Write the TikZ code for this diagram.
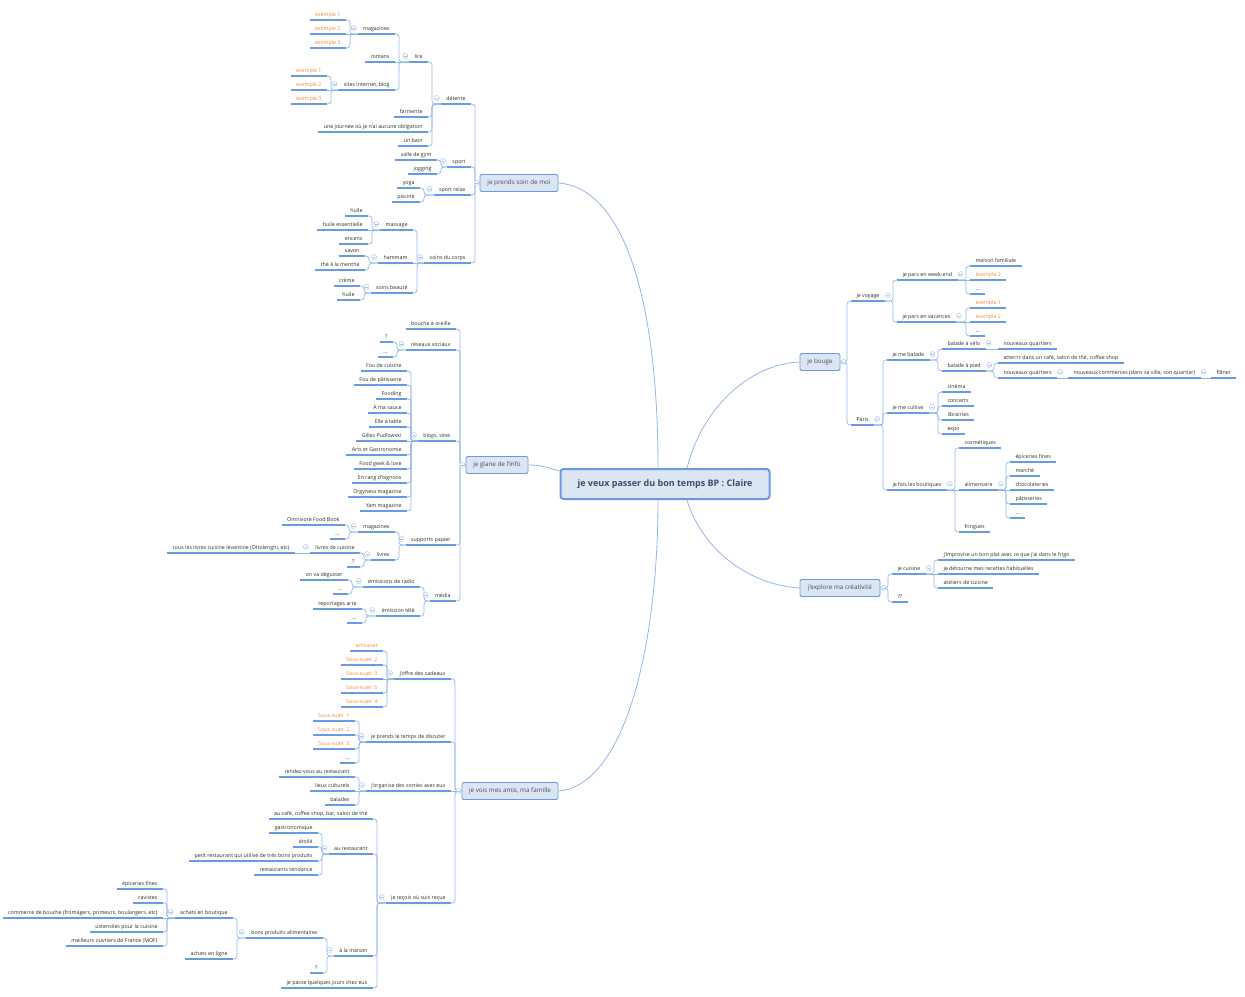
\documentclass[tikz,border=0pt]{standalone}
\usepackage{fontspec}
\setmainfont{Open Sans}
\definecolor{lineblue}{HTML}{6A9BE2}
\definecolor{connblue}{HTML}{92B5EA}
\definecolor{boxfill}{HTML}{DCE6F3}
\definecolor{boxtext}{HTML}{3C4B66}
\definecolor{leafgray}{HTML}{2A2A2A}
\definecolor{subject}{HTML}{F28A3A}
\definecolor{foldblue}{HTML}{A6C2EB}
\begin{document}
\begin{tikzpicture}[x=1pt,y=-1pt,line join=round,
  leaf/.style={font=\fontsize{5.3}{6}\selectfont, text=leafgray, inner xsep=5.3pt, inner ysep=2pt,
    text height=4pt, text depth=1.5pt,
    append after command={(\tikzlastnode.south west) edge[uline] (\tikzlastnode.south east)}},
  sub/.style={leaf, text=subject},
  lside/.style={anchor=south east},
  rside/.style={anchor=south west},
  uline/.style={draw=lineblue, line width=1.2pt},
  conn/.style={draw=connblue, line width=0.7pt, rounded corners=3pt},
  main/.style={draw=lineblue, fill=boxfill, rounded corners=2pt, line width=0.9pt, text=boxtext,
    font=\fontsize{6.3}{7}\selectfont, minimum height=17pt, inner sep=0pt},
  central/.style={draw=lineblue, fill=boxfill, rounded corners=3pt, line width=2pt, text=boxtext,
    font=\bfseries\fontsize{9}{10}\selectfont, minimum width=209pt, minimum height=30pt},
  fold/.style={circle, draw=foldblue, fill=white, line width=0.5pt, inner sep=0pt, minimum size=5pt,
    path picture={\draw[foldblue, line width=0.5pt] ([xshift=-1.3pt]path picture bounding box.center)
      -- ([xshift=1.3pt]path picture bounding box.center);}}]
\useasboundingbox (0,0) rectangle (1245,996);
%%
  % Node: central topic
  \node[central] (central) at (665,484) {je veux passer du bon temps BP : Claire};
  % Node: main topics
  \node[main, minimum width=78pt] (soin) at (519,183) {je prends soin de moi};
  \node[main, minimum width=62pt] (glane) at (497,465) {je glane de l'info};
  \node[main, minimum width=96pt] (vois) at (510,791) {je vois mes amis, ma famille};
  \node[main, minimum width=40pt] (bouge) at (820,362) {je bouge};
  \node[main, minimum width=80pt] (explore) at (840,588) {j'explore ma créativité};
  % Edge: central -> main topics
  \draw[conn, line width=0.8pt] (soin.east) .. controls +(65,5) and +(0,-170) .. ([xshift=-7pt]central.north);
  \draw[conn, line width=0.8pt] (glane.east) .. controls +(15,0) and +(-12,-3) .. ([yshift=-3pt]central.north west);
  \draw[conn, line width=0.8pt] (vois.east) .. controls +(65,-5) and +(0,150) .. ([xshift=-7pt]central.south);
  \draw[conn, line width=0.8pt] ([xshift=22pt]central.north) .. controls +(15,-60) and +(-50,2) .. (bouge.west);
  \draw[conn, line width=0.8pt] ([xshift=22pt]central.south) .. controls +(15,50) and +(-50,-3) .. (explore.west);
%
  % Node: je prends soin de moi
  \node[leaf, lside] (detente) at (471,104) {détente};
  \node[leaf, lside] (lire) at (428,62) {lire};
  \node[leaf, lside] (magazines) at (395,34) {magazines};
  \node[sub, lside] (mag-ex1) at (346,20) {exemple 1};
  \node[sub, lside] (mag-ex2) at (346,34) {exemple 2};
  \node[sub, lside] (mag-ex3) at (346,48) {exemple 3};
  \node[leaf, lside] (romans) at (395,62) {romans};
  \node[leaf, lside] (sites) at (395,90) {sites internet, blog};
  \node[sub, lside] (site-ex1) at (327,76) {exemple 1};
  \node[sub, lside] (site-ex2) at (327,90) {exemple 2};
  \node[sub, lside] (site-ex3) at (327,104) {exemple 3};
  \node[leaf, lside] (farniente) at (428,117) {farniente};
  \node[leaf, lside] (journee) at (428,132) {une journée où je n'ai aucune obligation};
  \node[leaf, lside] (bain) at (428,146) {un bain};
  \node[leaf, lside] (sport) at (471,167) {sport};
  \node[leaf, lside] (gym) at (437,160) {salle de gym};
  \node[leaf, lside] (jogging) at (437,174) {jogging};
  \node[leaf, lside] (sportrelax) at (471,195) {sport relax};
  \node[leaf, lside] (yoga) at (420,188) {yoga};
  \node[leaf, lside] (piscine) at (420,202) {piscine};
  \node[leaf, lside] (soinscorps) at (471,263) {soins du corps};
  \node[leaf, lside] (massage) at (413,230) {massage};
  \node[leaf, lside] (huile) at (368,216) {huile};
  \node[leaf, lside] (huileess) at (368,230) {huile essentielle};
  \node[leaf, lside] (encens) at (368,244) {encens};
  \node[leaf, lside] (hammam) at (413,263) {hammam};
  \node[leaf, lside] (savon) at (365,256) {savon};
  \node[leaf, lside] (menthe) at (365,270) {thé à la menthe};
  \node[leaf, lside] (beaute) at (413,293) {soins beauté};
  \node[leaf, lside] (creme) at (360,286) {crème};
  \node[leaf, lside] (huile2) at (360,300) {huile};
  % Edge: je prends soin de moi
  \draw[conn] (soin.west) -| ([xshift=4pt]detente.south east) -- (detente.south east);
  \draw[conn] (soin.west) -| ([xshift=4pt]sport.south east) -- (sport.south east);
  \draw[conn] (soin.west) -| ([xshift=4pt]sportrelax.south east) -- (sportrelax.south east);
  \draw[conn] (soin.west) -| ([xshift=4pt]soinscorps.south east) -- (soinscorps.south east);
  \draw[conn] (detente.south west) -| ([xshift=4pt]lire.south east) -- (lire.south east);
  \draw[conn] (detente.south west) -| ([xshift=4pt]farniente.south east) -- (farniente.south east);
  \draw[conn] (detente.south west) -| ([xshift=4pt]journee.south east) -- (journee.south east);
  \draw[conn] (detente.south west) -| ([xshift=4pt]bain.south east) -- (bain.south east);
  \draw[conn] (lire.south west) -| ([xshift=4pt]magazines.south east) -- (magazines.south east);
  \draw[conn] (lire.south west) -- (romans.south east);
  \draw[conn] (lire.south west) -| ([xshift=4pt]sites.south east) -- (sites.south east);
  \draw[conn] (magazines.south west) -| ([xshift=4pt]mag-ex1.south east) -- (mag-ex1.south east);
  \draw[conn] (magazines.south west) -- (mag-ex2.south east);
  \draw[conn] (magazines.south west) -| ([xshift=4pt]mag-ex3.south east) -- (mag-ex3.south east);
  \draw[conn] (sites.south west) -| ([xshift=4pt]site-ex1.south east) -- (site-ex1.south east);
  \draw[conn] (sites.south west) -- (site-ex2.south east);
  \draw[conn] (sites.south west) -| ([xshift=4pt]site-ex3.south east) -- (site-ex3.south east);
  \draw[conn] (sport.south west) -| ([xshift=4pt]gym.south east) -- (gym.south east);
  \draw[conn] (sport.south west) -| ([xshift=4pt]jogging.south east) -- (jogging.south east);
  \draw[conn] (sportrelax.south west) -| ([xshift=4pt]yoga.south east) -- (yoga.south east);
  \draw[conn] (sportrelax.south west) -| ([xshift=4pt]piscine.south east) -- (piscine.south east);
  \draw[conn] (soinscorps.south west) -| ([xshift=4pt]massage.south east) -- (massage.south east);
  \draw[conn] (soinscorps.south west) -- (hammam.south east);
  \draw[conn] (soinscorps.south west) -| ([xshift=4pt]beaute.south east) -- (beaute.south east);
  \draw[conn] (massage.south west) -| ([xshift=4pt]huile.south east) -- (huile.south east);
  \draw[conn] (massage.south west) -- (huileess.south east);
  \draw[conn] (massage.south west) -| ([xshift=4pt]encens.south east) -- (encens.south east);
  \draw[conn] (hammam.south west) -| ([xshift=4pt]savon.south east) -- (savon.south east);
  \draw[conn] (hammam.south west) -| ([xshift=4pt]menthe.south east) -- (menthe.south east);
  \draw[conn] (beaute.south west) -| ([xshift=4pt]creme.south east) -- (creme.south east);
  \draw[conn] (beaute.south west) -| ([xshift=4pt]huile2.south east) -- (huile2.south east);
%
  % Node: je glane de l'info
  \node[leaf, lside] (bouche) at (456,329) {bouche à oreille};
  \node[leaf, lside] (reseaux) at (456,350) {réseaux sociaux};
  \node[leaf, lside] (reseaux-q) at (393,342) {?};
  \node[leaf, lside] (reseaux-dots) at (393,357) {...};
  \node[leaf, lside] (blogs) at (456,441) {blogs, sites};
  \node[leaf, lside] (foucuisine) at (407,371) {Fou de cuisine};
  \node[leaf, lside] (foupatisserie) at (407,385) {Fou de pâtisserie};
  \node[leaf, lside] (fooding) at (407,399) {Fooding};
  \node[leaf, lside] (masauce) at (407,413) {À ma sauce};
  \node[leaf, lside] (elle) at (407,427) {Elle à table};
  \node[leaf, lside] (gilles) at (407,441) {Gilles Pudlowski};
  \node[leaf, lside] (arts) at (407,455) {Arts et Gastronomie};
  \node[leaf, lside] (foodgeek) at (407,469) {Food geek \& love};
  \node[leaf, lside] (enrang) at (407,483) {En rang d'oignons};
  \node[leaf, lside] (orgyness) at (407,497) {Orgyness magazine};
  \node[leaf, lside] (yam) at (407,511) {Yam magazine};
  \node[leaf, lside] (papier) at (456,545) {supports papier};
  \node[leaf, lside] (papier-mag) at (395,532) {magazines};
  \node[leaf, lside] (omnivore) at (345,525) {Omnivore Food Book};
  \node[leaf, lside] (papier-dots) at (345,539) {...};
  \node[leaf, lside] (livres) at (395,560) {livres};
  \node[leaf, lside] (livrescuisine) at (360,553) {livres de cuisine};
  \node[leaf, lside] (levantine) at (295,553) {tous les livres cuisine levantine (Ottolenghi, etc)};
  \node[leaf, lside] (livres-q) at (360,567) {?};
  \node[leaf, lside] (media) at (456,601) {média};
  \node[leaf, lside] (radio) at (420,587) {émissions de radio};
  \node[leaf, lside] (deguster) at (348,580) {on va déguster};
  \node[leaf, lside] (radio-dots) at (348,594) {...};
  \node[leaf, lside] (tele) at (420,616) {émission télé};
  \node[leaf, lside] (arte) at (362,609) {reportages arte};
  \node[leaf, lside] (tele-dots) at (362,623) {...};
  % Edge: je glane de l'info
  \draw[conn] (glane.west) -| ([xshift=4pt]bouche.south east) -- (bouche.south east);
  \draw[conn] (glane.west) -| ([xshift=4pt]reseaux.south east) -- (reseaux.south east);
  \draw[conn] (glane.west) -| ([xshift=4pt]blogs.south east) -- (blogs.south east);
  \draw[conn] (glane.west) -| ([xshift=4pt]papier.south east) -- (papier.south east);
  \draw[conn] (glane.west) -| ([xshift=4pt]media.south east) -- (media.south east);
  \draw[conn] (reseaux.south west) -| ([xshift=4pt]reseaux-q.south east) -- (reseaux-q.south east);
  \draw[conn] (reseaux.south west) -| ([xshift=4pt]reseaux-dots.south east) -- (reseaux-dots.south east);
  \draw[conn] (blogs.south west) -| ([xshift=4pt]foucuisine.south east) -- (foucuisine.south east);
  \draw[conn] (blogs.south west) -| ([xshift=4pt]foupatisserie.south east) -- (foupatisserie.south east);
  \draw[conn] (blogs.south west) -| ([xshift=4pt]fooding.south east) -- (fooding.south east);
  \draw[conn] (blogs.south west) -| ([xshift=4pt]masauce.south east) -- (masauce.south east);
  \draw[conn] (blogs.south west) -| ([xshift=4pt]elle.south east) -- (elle.south east);
  \draw[conn] (blogs.south west) -- (gilles.south east);
  \draw[conn] (blogs.south west) -| ([xshift=4pt]arts.south east) -- (arts.south east);
  \draw[conn] (blogs.south west) -| ([xshift=4pt]foodgeek.south east) -- (foodgeek.south east);
  \draw[conn] (blogs.south west) -| ([xshift=4pt]enrang.south east) -- (enrang.south east);
  \draw[conn] (blogs.south west) -| ([xshift=4pt]orgyness.south east) -- (orgyness.south east);
  \draw[conn] (blogs.south west) -| ([xshift=4pt]yam.south east) -- (yam.south east);
  \draw[conn] (papier.south west) -| ([xshift=4pt]papier-mag.south east) -- (papier-mag.south east);
  \draw[conn] (papier.south west) -| ([xshift=4pt]livres.south east) -- (livres.south east);
  \draw[conn] (papier-mag.south west) -| ([xshift=4pt]omnivore.south east) -- (omnivore.south east);
  \draw[conn] (papier-mag.south west) -| ([xshift=4pt]papier-dots.south east) -- (papier-dots.south east);
  \draw[conn] (livres.south west) -| ([xshift=4pt]livrescuisine.south east) -- (livrescuisine.south east);
  \draw[conn] (livres.south west) -| ([xshift=4pt]livres-q.south east) -- (livres-q.south east);
  \draw[conn] (livrescuisine.south west) -- (levantine.south east);
  \draw[conn] (media.south west) -| ([xshift=4pt]radio.south east) -- (radio.south east);
  \draw[conn] (media.south west) -| ([xshift=4pt]tele.south east) -- (tele.south east);
  \draw[conn] (radio.south west) -| ([xshift=4pt]deguster.south east) -- (deguster.south east);
  \draw[conn] (radio.south west) -| ([xshift=4pt]radio-dots.south east) -- (radio-dots.south east);
  \draw[conn] (tele.south west) -| ([xshift=4pt]arte.south east) -- (arte.south east);
  \draw[conn] (tele.south west) -| ([xshift=4pt]tele-dots.south east) -- (tele-dots.south east);
%
  % Node: je vois mes amis, ma famille
  \node[leaf, lside] (cadeaux) at (451,679) {j'offre des cadeaux};
  \node[sub, lside] (artisanat) at (383,651) {artisanat};
  \node[sub, lside] (cad-ss2) at (383,665) {Sous-sujet\ \ 2};
  \node[sub, lside] (cad-ss3) at (383,679) {Sous-sujet\ \ 3};
  \node[sub, lside] (cad-ss5) at (383,693) {Sous-sujet\ \ 5};
  \node[sub, lside] (cad-ss4) at (383,707) {Sous-sujet\ \ 4};
  \node[leaf, lside] (discuter) at (451,742) {je prends le temps de discuter};
  \node[sub, lside] (dis-ss1) at (355,721) {Sous-sujet\ \ 1};
  \node[sub, lside] (dis-ss2) at (355,735) {Sous-sujet\ \ 2};
  \node[sub, lside] (dis-ss3) at (355,749) {Sous-sujet\ \ 3};
  \node[leaf, lside] (dis-dots) at (355,763) {...};
  \node[leaf, lside] (sorties) at (451,791) {j'organise des sorties avec eux};
  \node[leaf, lside] (rdv) at (355,777) {rendez-vous au restaurant};
  \node[leaf, lside] (lieux) at (355,791) {lieux culturels};
  \node[leaf, lside] (balades) at (355,805) {balades};
  \node[leaf, lside] (recois) at (451,903) {je reçois où suis reçue};
  \node[leaf, lside] (cafe) at (373,819) {au café, coffee shop, bar, salon de thé};
  \node[leaf, lside] (restaurant) at (373,854) {au restaurant};
  \node[leaf, lside] (gastro) at (318,833) {gastronomique};
  \node[leaf, lside] (etoile) at (318,847) {étoilé};
  \node[leaf, lside] (petit) at (318,861) {petit restaurant qui utilise de très bons produits};
  \node[leaf, lside] (tendance) at (318,875) {restaurants tendance};
  \node[leaf, lside] (maison) at (373,956) {à la maison};
  \node[leaf, lside] (produits) at (323,938) {bons produits alimentaires};
  \node[leaf, lside] (boutique) at (233,918) {achats en boutique};
  \node[leaf, lside] (epiceries) at (163,889) {épiceries fines};
  \node[leaf, lside] (cavistes) at (163,903) {cavistes};
  \node[leaf, lside] (commerce) at (163,918) {commerce de bouche (fromagers, primeurs, boulangers, etc)};
  \node[leaf, lside] (ustensiles) at (163,932) {ustensiles pour la cuisine};
  \node[leaf, lside] (mof) at (163,946) {meilleurs ouvriers de France (MOF)};
  \node[leaf, lside] (enligne) at (233,959) {achats en ligne};
  \node[leaf, lside] (maison-q) at (323,973) {?};
  \node[leaf, lside] (sejour) at (373,988) {je passe quelques jours chez eux};
  % Edge: je vois mes amis, ma famille
  \draw[conn] (vois.west) -| ([xshift=4pt]cadeaux.south east) -- (cadeaux.south east);
  \draw[conn] (vois.west) -| ([xshift=4pt]discuter.south east) -- (discuter.south east);
  \draw[conn] (vois.west) -- (sorties.south east);
  \draw[conn] (vois.west) -| ([xshift=4pt]recois.south east) -- (recois.south east);
  \draw[conn] (cadeaux.south west) -| ([xshift=4pt]artisanat.south east) -- (artisanat.south east);
  \draw[conn] (cadeaux.south west) -| ([xshift=4pt]cad-ss2.south east) -- (cad-ss2.south east);
  \draw[conn] (cadeaux.south west) -- (cad-ss3.south east);
  \draw[conn] (cadeaux.south west) -| ([xshift=4pt]cad-ss5.south east) -- (cad-ss5.south east);
  \draw[conn] (cadeaux.south west) -| ([xshift=4pt]cad-ss4.south east) -- (cad-ss4.south east);
  \draw[conn] (discuter.south west) -| ([xshift=4pt]dis-ss1.south east) -- (dis-ss1.south east);
  \draw[conn] (discuter.south west) -| ([xshift=4pt]dis-ss2.south east) -- (dis-ss2.south east);
  \draw[conn] (discuter.south west) -| ([xshift=4pt]dis-ss3.south east) -- (dis-ss3.south east);
  \draw[conn] (discuter.south west) -| ([xshift=4pt]dis-dots.south east) -- (dis-dots.south east);
  \draw[conn] (sorties.south west) -| ([xshift=4pt]rdv.south east) -- (rdv.south east);
  \draw[conn] (sorties.south west) -- (lieux.south east);
  \draw[conn] (sorties.south west) -| ([xshift=4pt]balades.south east) -- (balades.south east);
  \draw[conn] (recois.south west) -| ([xshift=4pt]cafe.south east) -- (cafe.south east);
  \draw[conn] (recois.south west) -| ([xshift=4pt]restaurant.south east) -- (restaurant.south east);
  \draw[conn] (recois.south west) -| ([xshift=4pt]maison.south east) -- (maison.south east);
  \draw[conn] (recois.south west) -| ([xshift=4pt]sejour.south east) -- (sejour.south east);
  \draw[conn] (restaurant.south west) -| ([xshift=4pt]gastro.south east) -- (gastro.south east);
  \draw[conn] (restaurant.south west) -| ([xshift=4pt]etoile.south east) -- (etoile.south east);
  \draw[conn] (restaurant.south west) -| ([xshift=4pt]petit.south east) -- (petit.south east);
  \draw[conn] (restaurant.south west) -| ([xshift=4pt]tendance.south east) -- (tendance.south east);
  \draw[conn] (maison.south west) -| ([xshift=4pt]produits.south east) -- (produits.south east);
  \draw[conn] (maison.south west) -| ([xshift=4pt]maison-q.south east) -- (maison-q.south east);
  \draw[conn] (produits.south west) -| ([xshift=4pt]boutique.south east) -- (boutique.south east);
  \draw[conn] (produits.south west) -| ([xshift=4pt]enligne.south east) -- (enligne.south east);
  \draw[conn] (boutique.south west) -| ([xshift=4pt]epiceries.south east) -- (epiceries.south east);
  \draw[conn] (boutique.south west) -| ([xshift=4pt]cavistes.south east) -- (cavistes.south east);
  \draw[conn] (boutique.south west) -- (commerce.south east);
  \draw[conn] (boutique.south west) -| ([xshift=4pt]ustensiles.south east) -- (ustensiles.south east);
  \draw[conn] (boutique.south west) -| ([xshift=4pt]mof.south east) -- (mof.south east);
%
  % Node: je bouge
  \node[leaf, rside] (voyage) at (851,301) {je voyage};
  \node[leaf, rside] (weekend) at (897,280) {je pars en week-end};
  \node[leaf, rside] (familiale) at (970,266) {maison familiale};
  \node[sub, rside] (we-ex2) at (970,280) {exemple 2};
  \node[leaf, rside] (we-dots) at (970,294) {...};
  \node[leaf, rside] (vacances) at (897,322) {je pars en vacances};
  \node[sub, rside] (vac-ex1) at (970,308) {exemple 1};
  \node[sub, rside] (vac-ex2) at (970,322) {exemple 2};
  \node[leaf, rside] (vac-dots) at (970,336) {...};
  \node[leaf, rside] (paris) at (851,425) {Paris};
  \node[leaf, rside] (balade) at (887,360) {je me balade};
  \node[leaf, rside] (velo) at (942,349) {balade à vélo};
  \node[leaf, rside] (velo-nq) at (998,349) {nouveaux quartiers};
  \node[leaf, rside] (pied) at (942,371) {balade à pied};
  \node[leaf, rside] (atterrir) at (998,363) {atterrir dans un café, salon de thé, coffee shop};
  \node[leaf, rside] (pied-nq) at (998,378) {nouveaux quartiers};
  \node[leaf, rside] (commerces) at (1068,378) {nouveaux commerces (dans sa ville, son quartier)};
  \node[leaf, rside] (flaner) at (1211,378) {flâner};
  \node[leaf, rside] (cultive) at (887,413) {je me cultive};
  \node[leaf, rside] (cinema) at (942,392) {cinéma};
  \node[leaf, rside] (concerts) at (942,406) {concerts};
  \node[leaf, rside] (librairies) at (942,420) {librairies};
  \node[leaf, rside] (expo) at (942,434) {expo};
  \node[leaf, rside] (boutiques) at (887,490) {je fais les boutiques};
  \node[leaf, rside] (cosmetiques) at (959,448) {cosmétiques};
  \node[leaf, rside] (alimentaire) at (959,490) {alimentaire};
  \node[leaf, rside] (epic2) at (1010,462) {épiceries fines};
  \node[leaf, rside] (marche) at (1010,476) {marché};
  \node[leaf, rside] (chocolateries) at (1010,490) {chocolateries};
  \node[leaf, rside] (patisseries) at (1010,504) {pâtisseries};
  \node[leaf, rside] (alim-dots) at (1010,518) {...};
  \node[leaf, rside] (fringues) at (959,532) {fringues};
  % Edge: je bouge
  \draw[conn] (bouge.east) -| ([xshift=-4pt]voyage.south west) -- (voyage.south west);
  \draw[conn] (bouge.east) -| ([xshift=-4pt]paris.south west) -- (paris.south west);
  \draw[conn] (voyage.south east) -| ([xshift=-4pt]weekend.south west) -- (weekend.south west);
  \draw[conn] (voyage.south east) -| ([xshift=-4pt]vacances.south west) -- (vacances.south west);
  \draw[conn] (weekend.south east) -| ([xshift=-4pt]familiale.south west) -- (familiale.south west);
  \draw[conn] (weekend.south east) -- (we-ex2.south west);
  \draw[conn] (weekend.south east) -| ([xshift=-4pt]we-dots.south west) -- (we-dots.south west);
  \draw[conn] (vacances.south east) -| ([xshift=-4pt]vac-ex1.south west) -- (vac-ex1.south west);
  \draw[conn] (vacances.south east) -- (vac-ex2.south west);
  \draw[conn] (vacances.south east) -| ([xshift=-4pt]vac-dots.south west) -- (vac-dots.south west);
  \draw[conn] (paris.south east) -| ([xshift=-4pt]balade.south west) -- (balade.south west);
  \draw[conn] (paris.south east) -| ([xshift=-4pt]cultive.south west) -- (cultive.south west);
  \draw[conn] (paris.south east) -| ([xshift=-4pt]boutiques.south west) -- (boutiques.south west);
  \draw[conn] (balade.south east) -| ([xshift=-4pt]velo.south west) -- (velo.south west);
  \draw[conn] (balade.south east) -| ([xshift=-4pt]pied.south west) -- (pied.south west);
  \draw[conn] (velo.south east) -- (velo-nq.south west);
  \draw[conn] (pied.south east) -| ([xshift=-4pt]atterrir.south west) -- (atterrir.south west);
  \draw[conn] (pied.south east) -| ([xshift=-4pt]pied-nq.south west) -- (pied-nq.south west);
  \draw[conn] (pied-nq.south east) -- (commerces.south west);
  \draw[conn] (commerces.south east) -- (flaner.south west);
  \draw[conn] (cultive.south east) -| ([xshift=-4pt]cinema.south west) -- (cinema.south west);
  \draw[conn] (cultive.south east) -| ([xshift=-4pt]concerts.south west) -- (concerts.south west);
  \draw[conn] (cultive.south east) -| ([xshift=-4pt]librairies.south west) -- (librairies.south west);
  \draw[conn] (cultive.south east) -| ([xshift=-4pt]expo.south west) -- (expo.south west);
  \draw[conn] (boutiques.south east) -| ([xshift=-4pt]cosmetiques.south west) -- (cosmetiques.south west);
  \draw[conn] (boutiques.south east) -- (alimentaire.south west);
  \draw[conn] (boutiques.south east) -| ([xshift=-4pt]fringues.south west) -- (fringues.south west);
  \draw[conn] (alimentaire.south east) -| ([xshift=-4pt]epic2.south west) -- (epic2.south west);
  \draw[conn] (alimentaire.south east) -| ([xshift=-4pt]marche.south west) -- (marche.south west);
  \draw[conn] (alimentaire.south east) -- (chocolateries.south west);
  \draw[conn] (alimentaire.south east) -| ([xshift=-4pt]patisseries.south west) -- (patisseries.south west);
  \draw[conn] (alimentaire.south east) -| ([xshift=-4pt]alim-dots.south west) -- (alim-dots.south west);
%
  % Node: j'explore ma créativité
  \node[leaf, rside] (cuisine) at (892,574) {je cuisine};
  \node[leaf, rside] (improvise) at (938,560) {j'improvise un bon plat avec ce que j'ai dans le frigo};
  \node[leaf, rside] (detourne) at (938,574) {je détourne mes recettes habituelles};
  \node[leaf, rside] (ateliers) at (938,588) {ateliers de cuisine};
  \node[leaf, rside] (qq) at (892,602) {??};
  % Edge: j'explore ma créativité
  \draw[conn] (explore.east) -| ([xshift=-4pt]cuisine.south west) -- (cuisine.south west);
  \draw[conn] (explore.east) -| ([xshift=-4pt]qq.south west) -- (qq.south west);
  \draw[conn] (cuisine.south east) -| ([xshift=-4pt]improvise.south west) -- (improvise.south west);
  \draw[conn] (cuisine.south east) -- (detourne.south west);
  \draw[conn] (cuisine.south east) -| ([xshift=-4pt]ateliers.south west) -- (ateliers.south west);
%
  % Node: fold markers
  \node[fold] (f-soin) at ([xshift=-3pt]soin.west) {};
  \node[fold] (f-glane) at ([xshift=-3pt]glane.west) {};
  \node[fold] (f-vois) at ([xshift=-3pt]vois.west) {};
  \node[fold] (f-bouge) at ([xshift=3pt]bouge.east) {};
  \node[fold] (f-explore) at ([xshift=3pt]explore.east) {};
  \node[fold] (f-detente) at ([xshift=-4pt,yshift=6pt]detente.south west) {};
  \node[fold] (f-lire) at ([xshift=-4pt,yshift=6pt]lire.south west) {};
  \node[fold] (f-magazines) at ([xshift=-4pt,yshift=6pt]magazines.south west) {};
  \node[fold] (f-sites) at ([xshift=-4pt,yshift=6pt]sites.south west) {};
  \node[fold] (f-sport) at ([xshift=-4pt,yshift=6pt]sport.south west) {};
  \node[fold] (f-sportrelax) at ([xshift=-4pt,yshift=6pt]sportrelax.south west) {};
  \node[fold] (f-soinscorps) at ([xshift=-4pt,yshift=6pt]soinscorps.south west) {};
  \node[fold] (f-massage) at ([xshift=-4pt,yshift=6pt]massage.south west) {};
  \node[fold] (f-hammam) at ([xshift=-4pt,yshift=6pt]hammam.south west) {};
  \node[fold] (f-beaute) at ([xshift=-4pt,yshift=6pt]beaute.south west) {};
  \node[fold] (f-reseaux) at ([xshift=-4pt,yshift=6pt]reseaux.south west) {};
  \node[fold] (f-blogs) at ([xshift=-4pt,yshift=6pt]blogs.south west) {};
  \node[fold] (f-papier) at ([xshift=-4pt,yshift=6pt]papier.south west) {};
  \node[fold] (f-papier-mag) at ([xshift=-4pt,yshift=6pt]papier-mag.south west) {};
  \node[fold] (f-livres) at ([xshift=-4pt,yshift=6pt]livres.south west) {};
  \node[fold] (f-livrescuisine) at ([xshift=-4pt,yshift=6pt]livrescuisine.south west) {};
  \node[fold] (f-media) at ([xshift=-4pt,yshift=6pt]media.south west) {};
  \node[fold] (f-radio) at ([xshift=-4pt,yshift=6pt]radio.south west) {};
  \node[fold] (f-tele) at ([xshift=-4pt,yshift=6pt]tele.south west) {};
  \node[fold] (f-cadeaux) at ([xshift=-4pt,yshift=6pt]cadeaux.south west) {};
  \node[fold] (f-discuter) at ([xshift=-4pt,yshift=6pt]discuter.south west) {};
  \node[fold] (f-sorties) at ([xshift=-4pt,yshift=6pt]sorties.south west) {};
  \node[fold] (f-recois) at ([xshift=-4pt,yshift=6pt]recois.south west) {};
  \node[fold] (f-restaurant) at ([xshift=-4pt,yshift=6pt]restaurant.south west) {};
  \node[fold] (f-maison) at ([xshift=-4pt,yshift=6pt]maison.south west) {};
  \node[fold] (f-produits) at ([xshift=-4pt,yshift=6pt]produits.south west) {};
  \node[fold] (f-boutique) at ([xshift=-4pt,yshift=6pt]boutique.south west) {};
  \node[fold] (f-voyage) at ([xshift=3pt,yshift=6pt]voyage.south east) {};
  \node[fold] (f-weekend) at ([xshift=3pt,yshift=6pt]weekend.south east) {};
  \node[fold] (f-vacances) at ([xshift=3pt,yshift=6pt]vacances.south east) {};
  \node[fold] (f-paris) at ([xshift=3pt,yshift=6pt]paris.south east) {};
  \node[fold] (f-balade) at ([xshift=3pt,yshift=6pt]balade.south east) {};
  \node[fold] (f-velo) at ([xshift=3pt,yshift=6pt]velo.south east) {};
  \node[fold] (f-pied) at ([xshift=3pt,yshift=6pt]pied.south east) {};
  \node[fold] (f-pied-nq) at ([xshift=3pt,yshift=6pt]pied-nq.south east) {};
  \node[fold] (f-commerces) at ([xshift=3pt,yshift=6pt]commerces.south east) {};
  \node[fold] (f-cultive) at ([xshift=3pt,yshift=6pt]cultive.south east) {};
  \node[fold] (f-boutiques) at ([xshift=3pt,yshift=6pt]boutiques.south east) {};
  \node[fold] (f-alimentaire) at ([xshift=3pt,yshift=6pt]alimentaire.south east) {};
  \node[fold] (f-cuisine) at ([xshift=3pt,yshift=6pt]cuisine.south east) {};
%
\end{tikzpicture}
\end{document}
